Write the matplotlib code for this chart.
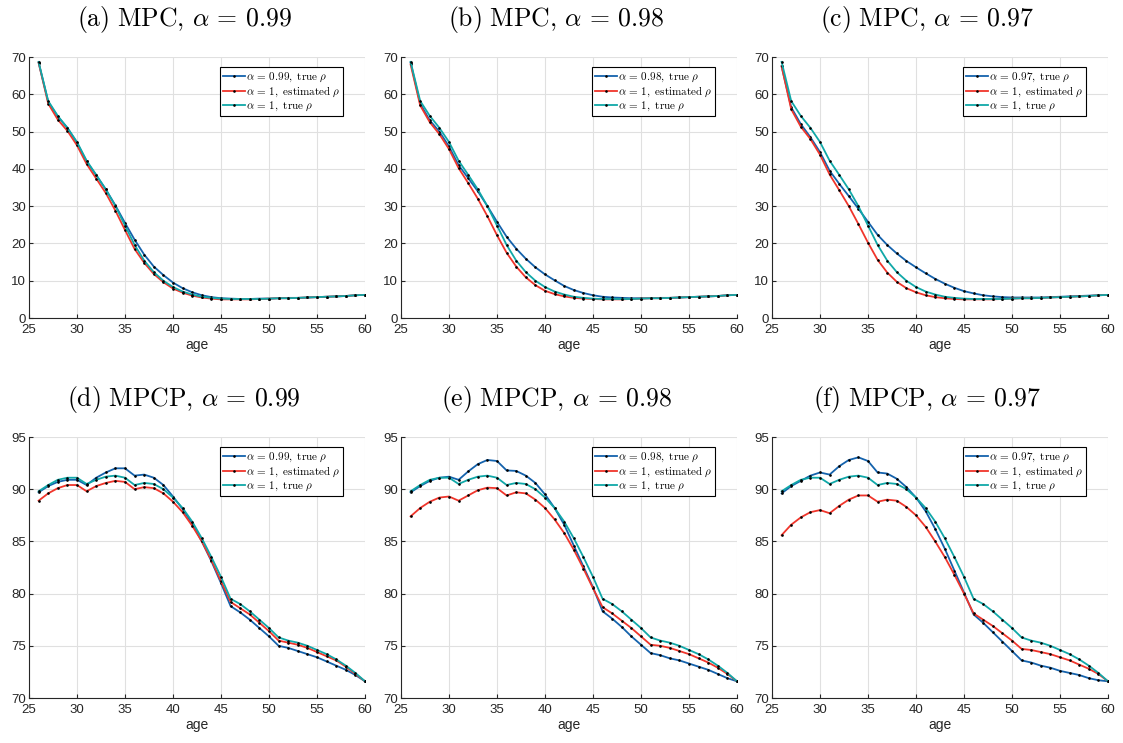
import matplotlib
matplotlib.use('Agg')
import matplotlib.pyplot as plt
import numpy as np

plt.rcParams['mathtext.fontset'] = 'cm'
plt.rcParams['font.family'] = ['Liberation Sans', 'DejaVu Sans']

age = np.arange(26, 61)

# MPC, alpha = 1 with true rho (same in all three top panels)
mpc_true = [68.7, 58.2, 54.2, 51.0, 47.2, 42.2, 38.4, 34.5, 30.0, 24.8,
            19.6, 15.4, 12.3, 10.0, 8.3, 7.1, 6.3, 5.7, 5.4, 5.2,
            5.1, 5.1, 5.1, 5.1, 5.2, 5.3, 5.3, 5.4, 5.5, 5.6,
            5.7, 5.8, 5.9, 6.1, 6.2]

mpc_099 = [68.5, 58.0, 54.0, 51.0, 47.0, 42.0, 38.3, 34.5, 30.2, 25.5,
           21.0, 17.0, 13.8, 11.5, 9.5, 8.0, 6.9, 6.1, 5.6, 5.3,
           5.2, 5.1, 5.1, 5.2, 5.2, 5.3, 5.4, 5.4, 5.5, 5.6,
           5.7, 5.8, 5.9, 6.1, 6.2]
mpc_099_est = [68.5, 57.5, 53.2, 50.2, 46.3, 41.3, 37.4, 33.5, 28.8, 23.6,
               18.5, 14.8, 11.8, 9.6, 7.9, 6.8, 6.0, 5.5, 5.2, 5.0,
               5.0, 5.0, 5.0, 5.1, 5.2, 5.3, 5.3, 5.4, 5.5, 5.6,
               5.7, 5.8, 5.9, 6.1, 6.2]

mpc_098 = [68.5, 57.5, 53.0, 50.0, 46.0, 41.0, 37.5, 34.0, 30.0, 25.8,
           21.8, 18.6, 15.9, 13.6, 11.7, 10.1, 8.6, 7.5, 6.7, 6.1,
           5.7, 5.5, 5.4, 5.3, 5.3, 5.3, 5.4, 5.4, 5.5, 5.6,
           5.7, 5.8, 5.9, 6.1, 6.2]
mpc_098_est = [68.0, 57.0, 52.5, 49.3, 45.3, 40.2, 36.2, 32.0, 27.3, 22.2,
               17.5, 13.8, 10.9, 8.8, 7.3, 6.4, 5.8, 5.4, 5.2, 5.1,
               5.0, 5.0, 5.0, 5.1, 5.2, 5.3, 5.3, 5.4, 5.5, 5.6,
               5.7, 5.8, 5.9, 6.1, 6.2]

mpc_097 = [67.5, 56.5, 52.0, 48.5, 44.5, 39.5, 36.0, 32.7, 29.3, 25.8,
           22.3, 19.6, 17.3, 15.3, 13.6, 12.0, 10.5, 9.2, 8.1, 7.2,
           6.6, 6.1, 5.8, 5.6, 5.5, 5.5, 5.5, 5.5, 5.6, 5.7,
           5.8, 5.9, 6.0, 6.1, 6.2]
mpc_097_est = [67.5, 56.0, 51.3, 48.0, 43.8, 38.5, 34.3, 30.0, 25.2, 20.2,
               15.6, 12.2, 9.7, 8.0, 6.9, 6.1, 5.6, 5.3, 5.1, 5.0,
               5.0, 5.0, 5.0, 5.1, 5.2, 5.3, 5.3, 5.4, 5.5, 5.6,
               5.7, 5.8, 5.9, 6.1, 6.2]

# MPCP, alpha = 1 with true rho (same in all three bottom panels)
mpcp_true = [89.8, 90.4, 90.9, 91.1, 91.1, 90.5, 90.9, 91.2, 91.3, 91.1,
             90.4, 90.6, 90.5, 90.0, 89.2, 88.2, 86.9, 85.3, 83.5, 81.6,
             79.5, 79.0, 78.3, 77.5, 76.7, 75.8, 75.5, 75.3, 75.0, 74.6,
             74.2, 73.7, 73.1, 72.4, 71.6]

mpcp_099 = [89.7, 90.3, 90.7, 90.9, 90.9, 90.4, 91.1, 91.6, 92.0, 92.0,
            91.3, 91.4, 91.1, 90.4, 89.3, 88.1, 86.7, 85.0, 83.1, 81.0,
            78.8, 78.2, 77.5, 76.7, 75.9, 75.0, 74.8, 74.5, 74.2, 73.9,
            73.5, 73.1, 72.7, 72.2, 71.6]
mpcp_099_est = [88.9, 89.6, 90.1, 90.4, 90.4, 89.8, 90.3, 90.6, 90.8, 90.7,
                90.0, 90.2, 90.1, 89.6, 88.8, 87.8, 86.5, 85.0, 83.2, 81.2,
                79.2, 78.6, 78.0, 77.2, 76.4, 75.5, 75.3, 75.1, 74.8, 74.4,
                74.0, 73.6, 73.0, 72.3, 71.6]

mpcp_098 = [89.7, 90.3, 90.8, 91.1, 91.2, 90.9, 91.7, 92.4, 92.8, 92.7,
            91.8, 91.75, 91.3, 90.6, 89.5, 88.2, 86.6, 84.6, 82.6, 80.6,
            78.3, 77.6, 76.8, 75.9, 75.1, 74.3, 74.1, 73.8, 73.6, 73.3,
            73.0, 72.7, 72.3, 71.9, 71.6]
mpcp_098_est = [87.4, 88.2, 88.8, 89.2, 89.3, 88.9, 89.4, 89.9, 90.15, 90.1,
                89.4, 89.7, 89.6, 89.0, 88.2, 87.1, 85.8, 84.2, 82.4, 80.5,
                78.7, 78.1, 77.4, 76.7, 75.9, 75.1, 75.0, 74.8, 74.5, 74.2,
                73.8, 73.4, 72.9, 72.3, 71.6]

mpcp_097 = [89.6, 90.3, 90.8, 91.3, 91.6, 91.4, 92.2, 92.8, 93.05, 92.7,
            91.6, 91.5, 91.0, 90.2, 89.2, 87.9, 86.2, 84.3, 82.2, 80.1,
            78.0, 77.2, 76.3, 75.4, 74.5, 73.6, 73.4, 73.1, 72.9, 72.6,
            72.4, 72.2, 71.9, 71.7, 71.6]
mpcp_097_est = [85.6, 86.6, 87.3, 87.8, 88.0, 87.7, 88.4, 89.0, 89.4, 89.4,
                88.8, 89.0, 88.9, 88.3, 87.5, 86.4, 85.0, 83.5, 81.8, 80.0,
                78.1, 77.5, 76.9, 76.2, 75.5, 74.7, 74.6, 74.4, 74.2, 73.9,
                73.6, 73.2, 72.8, 72.3, 71.6]

panels = ['(a) MPC', '(b) MPC', '(c) MPC', '(d) MPCP', '(e) MPCP', '(f) MPCP']
alphas = ['0.99', '0.98', '0.97', '0.99', '0.98', '0.97']
series = [(mpc_099, mpc_099_est, mpc_true), (mpc_098, mpc_098_est, mpc_true),
          (mpc_097, mpc_097_est, mpc_true), (mpcp_099, mpcp_099_est, mpcp_true),
          (mpcp_098, mpcp_098_est, mpcp_true), (mpcp_097, mpcp_097_est, mpcp_true)]

blue = '#1462AC'
red = '#F0352B'
teal = '#10A8A8'

fig = plt.figure(figsize=(11.23, 7.43), dpi=100)
lefts = [29 / 1123, 401 / 1123, 772 / 1123]
bottoms = [1 - 318 / 743, 1 - 698 / 743]
w = 336 / 1123
h = 261 / 743

for i in range(6):
    ax = fig.add_axes([lefts[i % 3], bottoms[i // 3], w, h])
    b, r, t = series[i]
    kw = dict(marker='.', markersize=1.8, markerfacecolor='k', markeredgecolor='k', lw=1.3)
    ax.plot(age, b, color=blue, label=r'$\alpha\,=\,%s,\ \mathrm{true}\ \rho$' % alphas[i], **kw)
    ax.plot(age, r, color=red, label=r'$\alpha\,=\,1,\ \mathrm{estimated}\ \rho$', **kw)
    ax.plot(age, t, color=teal, label=r'$\alpha\,=\,1,\ \mathrm{true}\ \rho$', **kw)
    ax.set_xlim(25, 60)
    ax.set_xticks(range(25, 61, 5))
    if i < 3:
        ax.set_ylim(0, 70)
        ax.set_yticks(range(0, 71, 10))
    else:
        ax.set_ylim(70, 95)
        ax.set_yticks(range(70, 96, 5))
    ax.grid(True, color='#e0e0e0', lw=0.8)
    ax.set_axisbelow(True)
    for s in ['top', 'right']:
        ax.spines[s].set_visible(False)
    for s in ['left', 'bottom']:
        ax.spines[s].set_color('#262626')
        ax.spines[s].set_linewidth(0.8)
    ax.tick_params(direction='in', length=3, labelsize=9.5, colors='#262626')
    ax.tick_params(axis='x', pad=4)
    ax.tick_params(axis='y', pad=2)
    ax.set_xlabel('age', fontsize=10, color='#262626', labelpad=2)
    name = panels[i].replace(' ', r'\ ')
    title = r'$\mathrm{%s,}\,\alpha\,=\,%s$' % (name, alphas[i])
    ax.set_title(title, fontsize=18.5, pad=22, x=0.462)
    leg = ax.legend(loc='upper right', bbox_to_anchor=(0.935, 0.96), fontsize=8,
                    fancybox=False, framealpha=1, edgecolor='k', handlelength=2.0,
                    handletextpad=0.1, borderpad=0.25, labelspacing=0.08, borderaxespad=0)
    leg.get_frame().set_linewidth(0.8)

fig.savefig('out.png', dpi=100)
